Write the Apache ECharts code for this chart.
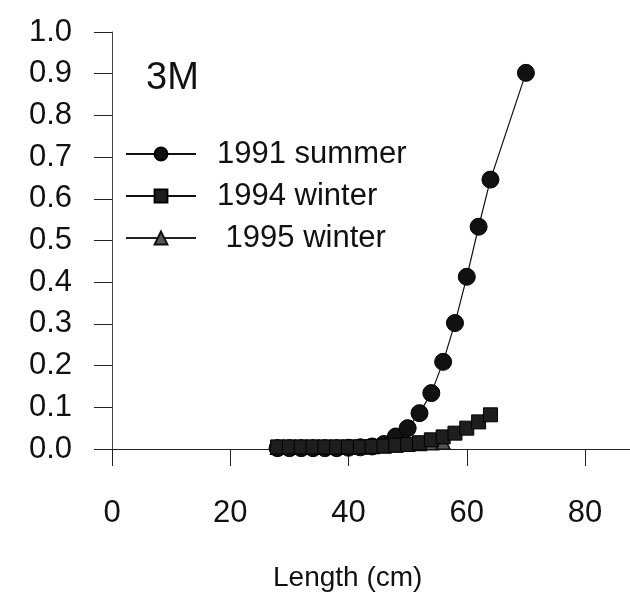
<!DOCTYPE html>
<html>
<head>
<meta charset="utf-8">
<script src="https://cdn.jsdelivr.net/npm/echarts@6/dist/echarts.min.js"></script>
<style>
  html, body { margin: 0; padding: 0; background: #fff; }
  #chart { width: 630px; height: 592px; }
</style>
</head>
<body>
<div id="chart"></div>
<script>
// Proportion by fish length (cm), three survey periods
const summer1991Length = [28, 30, 32, 34, 36, 38, 40, 42, 44, 46, 48, 50, 52, 54, 56, 58, 60, 62, 64, 70];
const summer1991Value  = [0.002, 0.002, 0.002, 0.002, 0.002, 0.002, 0.003, 0.004, 0.006, 0.012, 0.030, 0.050, 0.086, 0.134, 0.209, 0.302, 0.413, 0.533, 0.646, 0.902];

const winter1994Length = [28, 30, 32, 34, 36, 38, 40, 42, 44, 46, 48, 50, 52, 54, 56, 58, 60, 62, 64];
const winter1994Value  = [0.005, 0.005, 0.005, 0.005, 0.005, 0.005, 0.005, 0.005, 0.006, 0.007, 0.009, 0.011, 0.015, 0.022, 0.029, 0.038, 0.050, 0.065, 0.082];

const winter1995Length = [28, 30, 32, 34, 36, 38, 40, 42, 44, 46, 48, 50, 52, 54, 56];
const winter1995Value  = [0.004, 0.004, 0.004, 0.004, 0.004, 0.004, 0.004, 0.005, 0.006, 0.008, 0.010, 0.012, 0.013, 0.015, 0.016];

const xTicks = [0, 20, 40, 60, 80];
const yTicks = [0, 0.1, 0.2, 0.3, 0.4, 0.5, 0.6, 0.7, 0.8, 0.9, 1.0];

const seriesNames = ['1991 summer', '1994 winter', '1995 winter'];

const pairs = (xs, ys) => xs.map((x, i) => [x, ys[i]]);

const chart = echarts.init(document.getElementById('chart'), null, { renderer: 'canvas' });

const axisFont = { fontFamily: 'Liberation Sans', fontSize: 31, color: '#111' };

chart.setOption({
  animation: false,
  backgroundColor: '#ffffff',
  title: [
    {
      text: '3M',
      left: 141,
      top: 55,
      textStyle: { fontFamily: 'Liberation Sans', fontSize: 38, fontWeight: 'normal', color: '#111' }
    },
    {
      text: 'Length (cm)',
      left: 268,
      top: 559,
      textStyle: { fontFamily: 'Liberation Sans', fontSize: 28, fontWeight: 'normal', color: '#111' }
    }
  ],
  legend: {
    orient: 'vertical',
    left: 125,
    top: 138,
    padding: 0,
    itemWidth: 70,
    itemHeight: 16,
    itemGap: 10,
    data: seriesNames,
    formatter: name => (name === '1995 winter' ? ' ' + name : name),
    textStyle: {
      fontFamily: 'Liberation Sans',
      fontSize: 31,
      lineHeight: 32,
      color: '#111',
      padding: [0, 0, 0, 16]
    }
  },
  grid: { left: 112, right: 0, top: 32, bottom: 143 },
  xAxis: {
    type: 'value',
    min: 0,
    max: 87.6,
    interval: 20,
    axisLine: { show: true, lineStyle: { color: '#222', width: 1 } },
    axisTick: { show: true, length: 17, customValues: xTicks, lineStyle: { color: '#222', width: 1 } },
    axisLabel: { customValues: xTicks, margin: 49, ...axisFont },
    splitLine: { show: false }
  },
  yAxis: {
    type: 'value',
    min: 0,
    max: 1,
    interval: 0.1,
    axisLine: { show: true, lineStyle: { color: '#444', width: 1 } },
    axisTick: { show: true, length: 18, customValues: yTicks, lineStyle: { color: '#222', width: 1 } },
    axisLabel: {
      customValues: yTicks,
      margin: 40,
      formatter: v => v.toFixed(1),
      ...axisFont
    },
    splitLine: { show: false }
  },
  series: [
    {
      name: seriesNames[0],
      type: 'line',
      data: pairs(summer1991Length, summer1991Value),
      symbol: 'circle',
      symbolSize: 17,
      z: 2,
      lineStyle: { color: '#111', width: 1.2 },
      itemStyle: { color: '#111', borderColor: '#000', borderWidth: 1 }
    },
    {
      name: seriesNames[2],
      type: 'line',
      data: pairs(winter1995Length, winter1995Value),
      symbol: 'triangle',
      symbolSize: 14,
      z: 3,
      lineStyle: { color: '#222', width: 1 },
      itemStyle: { color: '#555', borderColor: '#111', borderWidth: 1.5 }
    },
    {
      name: seriesNames[1],
      type: 'line',
      data: pairs(winter1994Length, winter1994Value),
      symbol: 'rect',
      symbolSize: 14,
      z: 4,
      lineStyle: { color: '#111', width: 1 },
      itemStyle: { color: '#1e1e1e', borderColor: '#000', borderWidth: 1 }
    }
  ]
});
</script>
</body>
</html>
